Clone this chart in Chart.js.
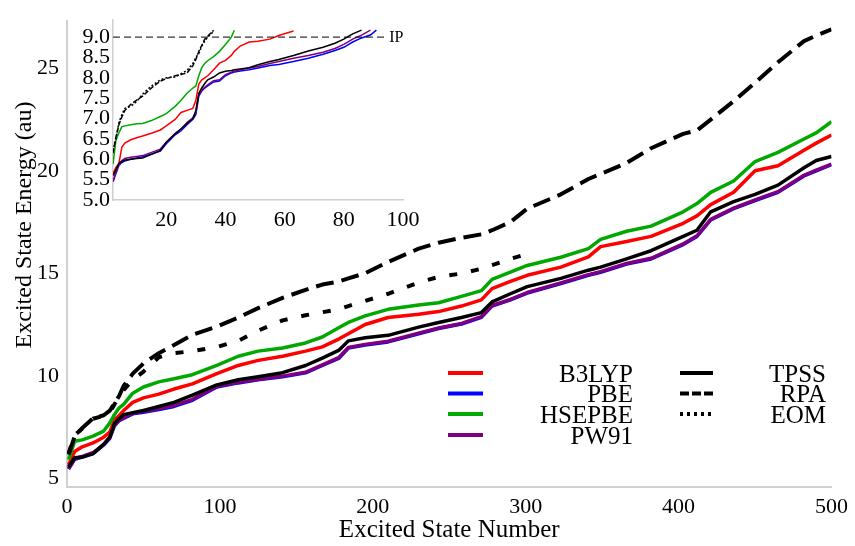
<!DOCTYPE html>
<html><head><meta charset="utf-8">
<script src="https://cdn.jsdelivr.net/npm/chart.js@4.4.0/dist/chart.umd.min.js"></script>
<style>
html,body{margin:0;padding:0;background:#fff;}
#wrap{position:relative;width:855px;height:546px;}
#main{position:absolute;left:0;top:0;}
#inset{position:absolute;left:0;top:0;}
</style></head><body>
<div id="wrap"><canvas id="main" width="855" height="546"></canvas><canvas id="inset" width="430" height="240"></canvas></div>
<script>
// ---------- main chart data ----------
const stateNumbers = [1,5,10,17,24,28,31,34,37,43,50,60,70,82,98,112,125,141,156,167,178,184,195,210,230,243,258,271,278,290,301,323,341,349,366,382,403,412,421,436,450,465,482,490,500];
const tpss   = [5.55,6.0,6.03,6.2,6.65,7.0,7.65,7.9,8.1,8.2,8.3,8.5,8.7,9.05,9.55,9.8,9.95,10.15,10.5,10.86,11.25,11.7,11.85,11.97,12.37,12.6,12.84,13.08,13.6,14.0,14.35,14.75,15.15,15.3,15.7,16.1,16.8,17.1,18.0,18.5,18.85,19.3,20.15,20.5,20.7];
const pbe    = [5.45,5.92,6.03,6.2,6.62,6.95,7.55,7.8,7.92,8.14,8.22,8.35,8.5,8.8,9.45,9.65,9.8,9.95,10.14,10.5,10.86,11.35,11.5,11.65,12.05,12.3,12.52,12.85,13.4,13.7,14.03,14.5,14.9,15.05,15.45,15.7,16.4,16.8,17.6,18.15,18.55,18.95,19.75,20.0,20.3];
const pw91   = [5.45,5.95,6.06,6.24,6.65,7.0,7.6,7.83,7.95,8.16,8.26,8.4,8.55,8.85,9.48,9.68,9.83,9.98,10.17,10.53,10.9,11.38,11.53,11.68,12.08,12.33,12.55,12.88,13.43,13.72,14.06,14.53,14.93,15.08,15.48,15.73,16.43,16.83,17.63,18.18,18.58,18.98,19.78,20.03,20.32];
const hsepbe = [5.9,6.8,6.87,7.05,7.3,7.7,8.1,8.42,8.6,9.15,9.45,9.7,9.85,10.05,10.5,10.95,11.2,11.35,11.6,11.89,12.35,12.6,12.92,13.24,13.45,13.56,13.87,14.15,14.7,15.05,15.38,15.78,16.2,16.65,17.05,17.3,18.0,18.4,18.95,19.5,20.45,20.9,21.55,21.85,22.4];
const b3lyp  = [5.65,6.3,6.53,6.72,7.0,7.25,7.85,8.05,8.3,8.7,8.92,9.1,9.35,9.6,10.1,10.5,10.75,10.95,11.2,11.41,11.8,12.05,12.5,12.84,13.0,13.13,13.4,13.7,14.25,14.6,14.9,15.3,15.8,16.3,16.55,16.8,17.44,17.8,18.35,18.95,20.0,20.25,21.0,21.35,21.75];
const rpa    = [6.15,7.04,7.45,7.92,8.07,8.3,8.65,9.0,9.5,10.1,10.6,11.1,11.5,12.0,12.4,12.84,13.3,13.8,14.19,14.45,14.6,14.75,15.0,15.55,16.2,16.49,16.73,16.9,17.1,17.5,18.15,18.85,19.6,19.85,20.38,21.1,21.8,21.97,22.5,23.4,24.3,25.3,26.33,26.6,26.9];
const eom    = [6.2,7.1,7.42,7.9,8.05,8.2,8.6,8.95,9.3,9.8,10.2,10.9,11.1,11.2,11.4,11.7,12.2,12.7,12.95,13.1,13.25,13.4,13.65,14.0,14.55,14.82,14.99,15.22,15.4,15.7,15.94,null,null,null,null,null,null,null,null,null,null,null,null,null,null];
const xTickValues = [0,100,200,300,400,500];
const yTickValues = [5,10,15,20,25];

// ---------- inset data ----------
const insetStates = [2,3,4,5,6,8,10,12,15,18,20,23,25,27,29,30,31,32,33,34,36,38,40,42,43,45,48,51,55,58,63,68,73,77,80,83,86,89,91];
const insetRpa  = [6.15,6.55,6.85,7.04,7.2,7.35,7.45,7.55,7.75,7.92,7.98,8.05,8.08,8.12,8.3,8.45,8.65,8.8,8.95,9.02,9.17,null,null,null,null,null,null,null,null,null,null,null,null,null,null,null,null,null,null];
const insetEom  = [6.2,6.5,6.9,7.1,7.25,7.3,7.42,7.6,7.8,7.95,8.0,8.02,8.1,8.18,8.35,8.5,8.6,8.78,8.9,9.0,9.14,null,null,null,null,null,null,null,null,null,null,null,null,null,null,null,null,null,null];
const insetHse  = [5.88,6.47,6.65,6.8,6.82,6.85,6.87,6.88,6.95,7.05,7.12,7.3,7.45,7.62,7.75,7.8,8.05,8.25,8.35,8.42,8.52,8.65,8.82,9.0,9.17,null,null,null,null,null,null,null,null,null,null,null,null,null,null];
const insetB3   = [5.65,5.8,5.9,6.3,6.4,6.48,6.53,6.57,6.64,6.72,6.82,6.98,7.15,7.2,7.25,7.45,7.85,7.95,8.0,8.05,8.2,8.36,8.43,8.55,8.65,8.78,8.88,8.9,8.95,9.04,9.15,null,null,null,null,null,null,null,null];
const insetTpss = [5.6,5.75,5.9,5.95,5.98,6.0,6.02,6.03,6.12,6.22,6.42,6.62,6.75,6.88,7.0,7.2,7.62,7.75,7.86,7.95,8.02,8.12,8.16,8.18,8.2,8.22,8.25,8.32,8.4,8.45,8.55,8.66,8.75,8.85,8.95,9.08,9.17,null,null];
const insetPbe  = [5.45,5.65,5.85,5.92,5.96,6.0,6.03,6.06,6.13,6.2,6.38,6.6,6.7,6.85,6.98,7.1,7.55,7.68,7.75,7.8,7.9,7.92,8.05,8.12,8.14,8.17,8.2,8.24,8.3,8.33,8.4,8.48,8.58,8.67,8.75,8.88,8.98,9.05,9.17];
const insetPw91 = [5.45,5.7,5.88,5.97,6.02,6.05,6.07,6.09,6.17,6.25,6.42,6.64,6.74,6.9,7.02,7.15,7.6,7.7,7.77,7.83,7.93,7.95,8.08,8.14,8.16,8.2,8.24,8.28,8.35,8.4,8.48,8.55,8.63,8.72,8.82,8.95,9.05,9.17,null];
const ipLevel = [9.0, 9.0];
const ipStates = [2, 94.3];
const insetXTicks = [20,40,60,80,100];
const insetYTicks = [5.0,5.5,6.0,6.5,7.0,7.5,8.0,8.5,9.0];

const FONT = "'Liberation Serif','Times New Roman',serif";
const C = {red:'#ff0000', blue:'#0000ff', green:'#00a800', purple:'#7f007f', black:'#000000'};

function pts(xs, ys){ return xs.map((x,i)=>({x:x,y:ys[i]})).filter(p=>p.y!==null); }

// legend + y title plugin for main chart
const legendCols = [
  {sx0:448, sx1:483, tx:633, rows:[['B3LYP',C.red,[]],['PBE',C.blue,[]],['HSEPBE',C.green,[]],['PW91',C.purple,[]]]},
  {sx0:680, sx1:713, tx:826, rows:[['TPSS',C.black,[]],['RPA',C.black,[9,3]],['EOM',C.black,[3,4]]]}
];
const legendRowsY = [373, 393.5, 414, 435];
const legendPlugin = {
  id:'customLegend',
  afterDraw(chart){
    const ctx = chart.ctx;
    ctx.save();
    legendCols.forEach(col=>{
      col.rows.forEach((r,i)=>{
        const y = legendRowsY[i];
        ctx.beginPath();
        ctx.setLineDash(r[2]);
        ctx.lineWidth = 4;
        ctx.strokeStyle = r[1];
        ctx.moveTo(col.sx0, y); ctx.lineTo(col.sx1, y);
        ctx.stroke();
        ctx.setLineDash([]);
        ctx.fillStyle = '#000';
        ctx.font = '25px ' + FONT;
        ctx.textAlign = 'right';
        ctx.textBaseline = 'alphabetic';
        ctx.fillText(r[0], col.tx, y + 8.5);
      });
    });
    // y-axis title
    ctx.translate(25, 225);
    ctx.rotate(-Math.PI/2);
    ctx.font = '24px ' + FONT;
    ctx.fillStyle = '#000';
    ctx.textAlign = 'center';
    ctx.textBaseline = 'middle';
    ctx.fillText('Excited State Energy (au)', 0, 0);
    ctx.restore();
  }
};

const mainDatasets = [
  {label:'RPA', data:pts(stateNumbers,rpa), borderColor:C.black, borderWidth:4, borderDash:[18,8]},
  {label:'EOM', data:pts(stateNumbers,eom), borderColor:C.black, borderWidth:4, borderDash:[8,14]},
  {label:'TPSS', data:pts(stateNumbers,tpss), borderColor:C.black, borderWidth:3.5},
  {label:'HSEPBE', data:pts(stateNumbers,hsepbe), borderColor:C.green, borderWidth:3.5},
  {label:'B3LYP', data:pts(stateNumbers,b3lyp), borderColor:C.red, borderWidth:3.5},
  {label:'PW91', data:pts(stateNumbers,pw91), borderColor:C.purple, borderWidth:3.5},
  {label:'PBE', data:pts(stateNumbers,pbe), borderColor:C.blue, borderWidth:3.5}
];

new Chart(document.getElementById('main'), {
  type:'line',
  data:{datasets:mainDatasets},
  plugins:[legendPlugin],
  options:{
    responsive:false, animation:false,
    layout:{padding:{left:0,right:20,top:10,bottom:0}},
    plugins:{legend:{display:false}, tooltip:{enabled:false}},
    elements:{point:{radius:0}, line:{tension:0, fill:false, borderJoinStyle:'round'}},
    scales:{
      x:{type:'linear', min:0, max:500,
        grid:{display:false, drawTicks:false},
        border:{display:true, color:'#d0d0d0', width:2},
        ticks:{padding:7, color:'#000', font:{family:FONT, size:22}, maxRotation:0},
        title:{display:true, text:'Excited State Number', color:'#000', font:{family:FONT, size:25}, padding:{top:0,bottom:1}},
        afterBuildTicks(s){ s.ticks = xTickValues.map(v=>({value:v})); },
        afterFit(s){ s.height = 59; }
      },
      y:{type:'linear', min:4.57, max:27.3,
        grid:{display:false, drawTicks:false},
        border:{display:true, color:'#d0d0d0', width:2},
        ticks:{padding:8, color:'#000', font:{family:FONT, size:22}},
        title:{display:false},
        afterBuildTicks(s){ s.ticks = yTickValues.map(v=>({value:v})); },
        afterFit(s){ s.width = 67; }
      }
    }
  }
});

// ---------- inset ----------
const ipLabelPlugin = {
  id:'ipLabel',
  afterDatasetsDraw(chart){
    const ctx = chart.ctx;
    const xs = chart.scales.x, ys = chart.scales.y;
    ctx.save();
    ctx.fillStyle = '#000';
    ctx.font = '16px ' + FONT;
    ctx.textAlign = 'left';
    ctx.textBaseline = 'middle';
    ctx.fillText('IP', xs.getPixelForValue(ipStates[1]) + 3, ys.getPixelForValue(ipLevel[1]) + 1);
    ctx.restore();
  }
};

const insetDatasets = [
  {label:'IP', data:pts(ipStates,ipLevel), borderColor:'#000', borderWidth:1, borderDash:[7,4]},
  {label:'RPA', data:pts(insetStates,insetRpa), borderColor:C.black, borderWidth:1.5, borderDash:[5,2]},
  {label:'EOM', data:pts(insetStates,insetEom), borderColor:C.black, borderWidth:1.5, borderDash:[2,2]},
  {label:'TPSS', data:pts(insetStates,insetTpss), borderColor:C.black, borderWidth:1.5},
  {label:'HSEPBE', data:pts(insetStates,insetHse), borderColor:C.green, borderWidth:1.5},
  {label:'B3LYP', data:pts(insetStates,insetB3), borderColor:C.red, borderWidth:1.5},
  {label:'PW91', data:pts(insetStates,insetPw91), borderColor:C.purple, borderWidth:1.5},
  {label:'PBE', data:pts(insetStates,insetPbe), borderColor:C.blue, borderWidth:1.5}
];

new Chart(document.getElementById('inset'), {
  type:'line',
  data:{datasets:insetDatasets},
  plugins:[ipLabelPlugin],
  options:{
    responsive:false, animation:false,
    layout:{padding:{left:0,right:27,top:20,bottom:0}},
    plugins:{legend:{display:false}, tooltip:{enabled:false}},
    elements:{point:{radius:0}, line:{tension:0, fill:false}},
    scales:{
      x:{type:'linear', min:2, max:100,
        grid:{display:false, drawTicks:false},
        border:{display:true, color:'#d0d0d0', width:1.5},
        ticks:{padding:7, color:'#000', font:{family:FONT, size:22}, maxRotation:0},
        afterBuildTicks(s){ s.ticks = insetXTicks.map(v=>({value:v})); },
        afterFit(s){ s.height = 40; }
      },
      y:{type:'linear', min:5, max:9.42,
        grid:{display:false, drawTicks:false},
        border:{display:true, color:'#d0d0d0', width:1.5},
        ticks:{padding:3, color:'#000', autoSkip:false, font:{family:FONT, size:22, lineHeight:0.9}, callback:(v)=>Number(v).toFixed(1)},
        afterBuildTicks(s){ s.ticks = insetYTicks.map(v=>({value:v})); },
        afterFit(s){ s.width = 113; }
      }
    }
  }
});
</script>
</body></html>
